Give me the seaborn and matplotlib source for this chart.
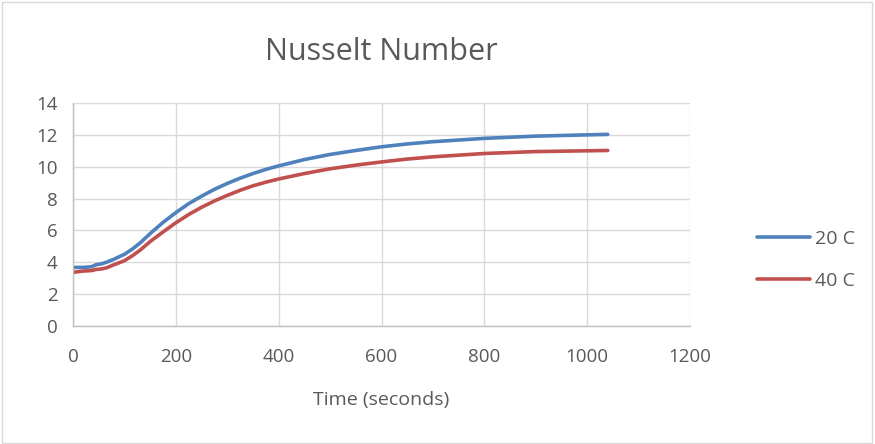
import matplotlib
matplotlib.use("Agg")
import matplotlib.pyplot as plt
import seaborn as sns
import pandas as pd
from matplotlib.patches import Rectangle

time_s = [0, 20, 36, 45, 55, 65, 80, 100, 115, 130, 150, 175, 200, 225, 250, 275, 300,
          325, 350, 375, 400, 450, 500, 550, 600, 650, 700, 800, 900, 1000, 1040]
nu_20c = [3.68, 3.68, 3.72, 3.85, 3.9, 4.0, 4.2, 4.5, 4.82, 5.2, 5.8, 6.5, 7.12, 7.68,
          8.15, 8.58, 8.95, 9.28, 9.57, 9.83, 10.05, 10.45, 10.77, 11.02, 11.25, 11.43,
          11.57, 11.78, 11.92, 12.0, 12.03]
nu_40c = [3.37, 3.45, 3.48, 3.55, 3.58, 3.65, 3.85, 4.1, 4.4, 4.75, 5.3, 5.9, 6.48, 7.0,
          7.45, 7.85, 8.2, 8.52, 8.8, 9.03, 9.23, 9.57, 9.87, 10.1, 10.3, 10.48, 10.62,
          10.83, 10.95, 11.0, 11.02]
series_names = ["20 C", "40 C"]
colors = ["#4F81BD", "#C0504D"]
x_ticks = [0, 200, 400, 600, 800, 1000, 1200]
y_ticks = [0, 2, 4, 6, 8, 10, 12, 14]

df = pd.concat([
    pd.DataFrame({"Time": time_s, "Nu": nu_20c, "Series": series_names[0]}),
    pd.DataFrame({"Time": time_s, "Nu": nu_40c, "Series": series_names[1]}),
])

sns.set_style("white")
plt.rcParams["font.family"] = ["Open Sans", "DejaVu Sans"]

fig = plt.figure(figsize=(8.75, 4.44), dpi=100)
ax = fig.add_axes([73 / 875, 1 - 326 / 444, (690 - 73) / 875, (326 - 103) / 444])
fig.patches.append(Rectangle((0.002, 0.003), 0.995, 0.993, transform=fig.transFigure,
                             fill=False, edgecolor="#d9d9d9", linewidth=1))

sns.lineplot(data=df, x="Time", y="Nu", hue="Series", palette=colors, linewidth=2.6,
             ax=ax, legend=True)

ax.set_xlim(0, 1200)
ax.set_ylim(0, 14)
ax.set_xticks(x_ticks)
ax.set_yticks(y_ticks)
ax.grid(True, color="#d9d9d9", linewidth=1)
ax.set_axisbelow(True)
for s in ["top", "right"]:
    ax.spines[s].set_visible(False)
for s in ["left", "bottom"]:
    ax.spines[s].set_color("#bfbfbf")
    ax.spines[s].set_linewidth(1)
ax.tick_params(axis="x", length=0, labelsize=13.5, labelcolor="#595959", pad=16)
ax.tick_params(axis="y", length=0, labelsize=13.5, labelcolor="#595959", pad=11)
ax.set_xlabel("Time (seconds)", fontsize=14, color="#595959", labelpad=18)
ax.set_ylabel("")
ax.set_title("Nusselt Number", fontsize=22, color="#595959", pad=31)

leg = ax.legend(loc="center left", bbox_to_anchor=(1.081, 0.296), frameon=False,
                fontsize=14, labelcolor="#595959", handlelength=2.7, handletextpad=0.25,
                labelspacing=1.25)
for line in leg.get_lines():
    line.set_linewidth(2.6)

fig.savefig("out.png", dpi=100)
